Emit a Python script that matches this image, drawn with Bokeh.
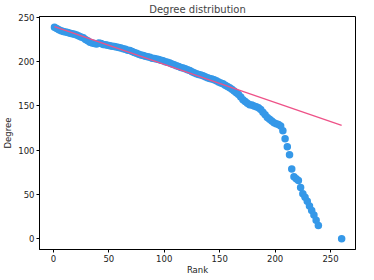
from bokeh.plotting import figure
from bokeh.models import Range1d, FixedTicker
from bokeh.embed import file_html
from bokeh.resources import INLINE

# ---- data ----
ranks = list(range(1, 241, 2)) + [260]
degrees = [
    239, 237.5, 236, 235, 234, 233.5, 233, 232, 231.5, 231,
    230, 229, 228, 227, 225, 223.5, 222, 221, 220.5, 220,
    221, 220.5, 219.5, 219, 218.5, 218, 217.5, 217, 216.5, 216,
    215.5, 214.5, 214, 213, 212.5, 211.5, 210.5, 209.5, 208.5, 207.5,
    207, 206, 205.5, 205, 204, 203.5, 203, 202.5, 201.5, 201,
    200, 199.5, 198.5, 197.5, 196.5, 195.5, 194.5, 193.5, 193, 192,
    191, 190, 188.5, 187.5, 186.5, 185.5, 185, 184, 183, 182,
    181, 180.5, 179.5, 178.5, 177, 176, 175, 173.5, 172, 170.5,
    169, 167, 165, 163, 160, 157, 155, 153, 151.5, 151,
    150, 149, 148, 146, 143, 140, 137, 135, 133, 131,
    130, 129, 127.5, 122, 113, 104, 95, 79, 70, 68,
    66, 58, 51, 47, 42.5, 37, 32, 27, 21, 15,
    0,
]
fit_slope = -0.43
fit_intercept = 240.0
x_ticks = [0, 50, 100, 150, 200, 250]
y_ticks = [0, 50, 100, 150, 200, 250]

fit_x = [min(ranks), max(ranks)]
fit_y = [fit_intercept + fit_slope * v for v in fit_x]

FONT = "DejaVu Sans"

p = figure(width=358, frame_height=233, output_backend="svg", toolbar_location=None,
           x_range=Range1d(-12.5, 272.5), y_range=Range1d(-12, 251),
           title="Degree distribution",
           min_border_left=0, min_border_right=3, min_border_top=0, min_border_bottom=0)

p.title.text_font = FONT
p.title.text_font_size = "10px"
p.title.text_font_style = "normal"
p.title.align = "center"
p.title.offset = 0
p.title.standoff = 3

p.scatter(ranks, degrees, size=7.5, color="#3598e8", line_color=None)
p.line(fit_x, fit_y, line_color="#ee5288", line_width=1.3)

p.xgrid.visible = False
p.ygrid.visible = False
p.outline_line_color = "black"
p.outline_line_width = 1
p.outline_line_alpha = 1
p.background_fill_color = "white"
p.border_fill_color = "white"

for ax, ticks in ((p.xaxis[0], x_ticks), (p.yaxis[0], y_ticks)):
    ax.ticker = FixedTicker(ticks=ticks)
    ax.minor_tick_line_color = None
    ax.major_tick_in = 0
    ax.major_tick_out = 3
    ax.major_tick_line_color = "black"
    ax.axis_line_color = "black"
    ax.major_label_text_font = FONT
    ax.major_label_text_font_size = "8.5px"
    ax.major_label_text_color = "#222222"
    ax.axis_label_text_font = FONT
    ax.axis_label_text_font_size = "8.5px"
    ax.axis_label_text_font_style = "normal"
    ax.axis_label_text_color = "#222222"

p.xaxis.axis_label = "Rank"
p.yaxis.axis_label = "Degree"
p.xaxis.major_label_standoff = 2
p.yaxis.major_label_standoff = 2
p.xaxis.axis_label_standoff = 0
p.yaxis.axis_label_standoff = 2

open("out.html", "w").write(file_html(p, INLINE))
